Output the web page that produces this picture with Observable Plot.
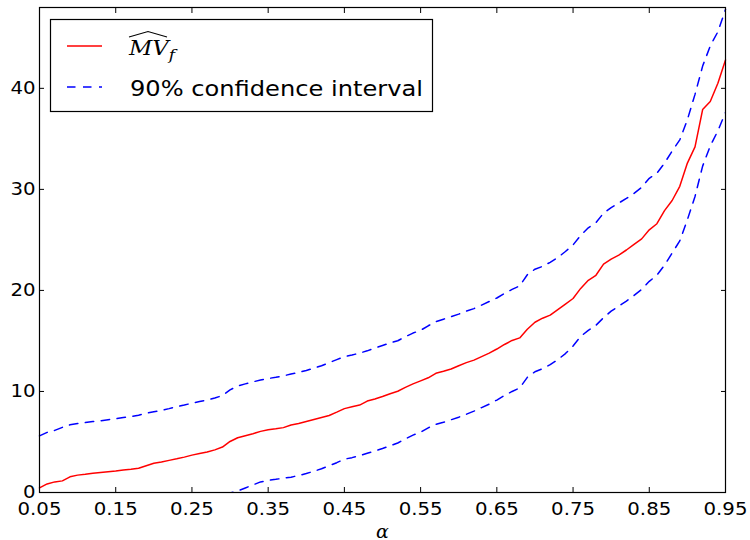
<!DOCTYPE html>
<html><head><meta charset="utf-8">
<script src="https://cdn.jsdelivr.net/npm/d3@7"></script>
<script src="https://cdn.jsdelivr.net/npm/@observablehq/plot@0.6"></script>
<style>body{margin:0;background:#fff;} svg{display:block;}</style>
</head><body><div id="chart"></div>
<script>
const alpha = [0.05,0.06,0.07,0.08,0.09,0.10,0.11,0.12,0.13,0.14,0.15,0.16,0.17,0.18,0.19,0.20,0.21,0.22,0.23,0.24,0.25,0.26,0.27,0.28,0.29,0.30,0.31,0.32,0.33,0.34,0.35,0.36,0.37,0.38,0.39,0.40,0.41,0.42,0.43,0.44,0.45,0.46,0.47,0.48,0.49,0.50,0.51,0.52,0.53,0.54,0.55,0.56,0.57,0.58,0.59,0.60,0.61,0.62,0.63,0.64,0.65,0.66,0.67,0.68,0.69,0.70,0.71,0.72,0.73,0.74,0.75,0.76,0.77,0.78,0.79,0.80,0.81,0.82,0.83,0.84,0.85,0.86,0.87,0.88,0.89,0.90,0.91,0.92,0.93,0.94,0.95];
const mvF = [0.45,0.85,1.05,1.15,1.55,1.72,1.80,1.90,1.98,2.05,2.12,2.22,2.30,2.40,2.65,2.90,3.02,3.18,3.33,3.50,3.70,3.85,4.00,4.22,4.50,5.05,5.42,5.62,5.82,6.05,6.20,6.30,6.42,6.68,6.82,7.02,7.22,7.42,7.62,7.95,8.30,8.48,8.65,9.05,9.25,9.50,9.78,10.02,10.40,10.75,11.05,11.35,11.80,12.00,12.22,12.55,12.85,13.10,13.45,13.80,14.20,14.65,15.05,15.30,16.15,16.85,17.25,17.55,18.10,18.65,19.20,20.20,21.00,21.50,22.60,23.10,23.50,24.00,24.55,25.10,26.00,26.60,27.90,28.90,30.30,32.60,34.20,37.90,38.70,40.50,42.80];
const ciUpper = [5.60,5.95,6.15,6.45,6.70,6.82,6.92,7.02,7.10,7.20,7.30,7.42,7.52,7.65,7.85,8.00,8.12,8.30,8.50,8.65,8.85,9.00,9.15,9.35,9.60,10.15,10.55,10.75,10.95,11.13,11.28,11.40,11.55,11.72,11.88,12.08,12.30,12.55,12.85,13.15,13.45,13.60,13.80,14.02,14.30,14.55,14.80,15.02,15.42,15.78,16.05,16.50,16.90,17.15,17.40,17.65,17.95,18.20,18.55,18.90,19.25,19.70,20.10,20.45,21.55,22.10,22.38,22.78,23.25,23.85,24.50,25.45,26.20,26.70,27.65,28.20,28.65,29.10,29.60,30.20,31.10,31.60,32.60,33.80,34.90,36.90,39.40,42.20,44.20,45.60,47.80];
const ciLower = [-4.60,-4.25,-4.05,-3.75,-3.50,-3.38,-3.28,-3.18,-3.10,-3.00,-2.90,-2.78,-2.68,-2.55,-2.35,-2.20,-2.08,-1.90,-1.70,-1.55,-1.35,-1.20,-1.05,-0.85,-0.60,-0.05,0.15,0.45,0.75,1.05,1.20,1.30,1.42,1.52,1.68,1.88,2.10,2.35,2.65,2.95,3.30,3.45,3.65,3.88,4.10,4.35,4.62,4.90,5.30,5.68,5.96,6.40,6.75,6.95,7.20,7.45,7.75,8.05,8.40,8.75,9.15,9.60,10.00,10.35,11.40,11.95,12.25,12.65,13.15,13.75,14.50,15.45,16.05,16.55,17.30,17.95,18.45,18.95,19.50,20.10,20.90,21.50,22.50,23.70,24.90,27.00,29.30,32.30,34.30,35.80,37.60];
const xTicks = [0.05,0.15,0.25,0.35,0.45,0.55,0.65,0.75,0.85,0.95];
const yTicks = [0,10,20,30,40];
const xLabel = "α";
const legendCI = "90% confidence interval";

const rows = alpha.map((a, i) => ({a, mv: mvF[i], up: ciUpper[i], lo: ciLower[i]}));
const red = "#ff0000", blue = "#0000ff", dash = "8.5,7.5";

const plot = Plot.plot({
  width: 750, height: 540,
  marginLeft: 39, marginRight: 25, marginTop: 7, marginBottom: 48,
  style: {fontFamily: "DejaVu Sans", fontSize: "17px", background: "#fff", color: "#000"},
  x: {domain: [0.05, 0.95]},
  y: {domain: [0, 48]},
  marks: [
    Plot.line(rows, {x: "a", y: "mv", stroke: red, strokeWidth: 1.5}),
    Plot.line(rows, {x: "a", y: "up", stroke: blue, strokeWidth: 1.5, strokeDasharray: dash}),
    Plot.line(rows, {x: "a", y: "lo", stroke: blue, strokeWidth: 1.5, strokeDasharray: dash, clip: true}),
    Plot.frame({stroke: "#000", strokeWidth: 1.2}),
    Plot.axisX({anchor: "bottom", ticks: xTicks, tickSize: -5, tickPadding: 15, tickFormat: d3.format(".2f"), label: null, fontSize: 17}),
    Plot.axisX({anchor: "top", ticks: xTicks, tickSize: -5, tickFormat: () => "", label: null}),
    Plot.axisY({anchor: "left", ticks: yTicks, tickSize: -5, tickPadding: 9, label: null, fontSize: 17}),
    Plot.axisY({anchor: "right", ticks: yTicks, tickSize: -5, tickFormat: () => "", label: null}),
    Plot.text([xLabel], {text: d => d, frameAnchor: "bottom", lineAnchor: "bottom", dy: 45, fontFamily: "DejaVu Serif", fontStyle: "italic", fontSize: 19})
  ]
});
document.getElementById("chart").appendChild(plot);

const svg = d3.select(plot);
function stretch(sel, k) {
  sel.each(function () {
    const w = this.getComputedTextLength();
    if (w > 0) {
      this.setAttribute("textLength", (w * k).toFixed(2));
      this.setAttribute("lengthAdjust", "spacingAndGlyphs");
    }
  });
}
stretch(svg.selectAll("g[aria-label='x-axis tick label'] text, g[aria-label='y-axis tick label'] text"), 1.16);

// legend inside plot area, top-left
const g = svg.append("g").attr("text-anchor", "start");
g.append("rect").attr("x", 50.5).attr("y", 19.5).attr("width", 382).attr("height", 92)
  .attr("fill", "#fff").attr("stroke", "#000").attr("stroke-width", 1.2);
g.append("line").attr("x1", 67).attr("x2", 102).attr("y1", 46).attr("y2", 46)
  .attr("stroke", red).attr("stroke-width", 1.5);
const t = g.append("text").attr("x", 129).attr("y", 55)
  .attr("font-family", "DejaVu Serif").attr("font-style", "italic").attr("font-size", 20);
t.append("tspan").text("MV");
t.append("tspan").attr("dy", 5).attr("font-size", 15).text("f");
g.append("path").attr("d", "M129,37 L148,31.5 L167,37").attr("fill", "none")
  .attr("stroke", "#000").attr("stroke-width", 1.1);
g.append("line").attr("x1", 67).attr("x2", 102).attr("y1", 87).attr("y2", 87)
  .attr("stroke", blue).attr("stroke-width", 1.5).attr("stroke-dasharray", dash);
const ci = g.append("text").attr("x", 130).attr("y", 96)
  .attr("font-family", "DejaVu Sans").attr("font-size", 21).text(legendCI);
stretch(ci, 293 / ci.node().getComputedTextLength());
stretch(t, 1.14);
</script>
</body></html>
